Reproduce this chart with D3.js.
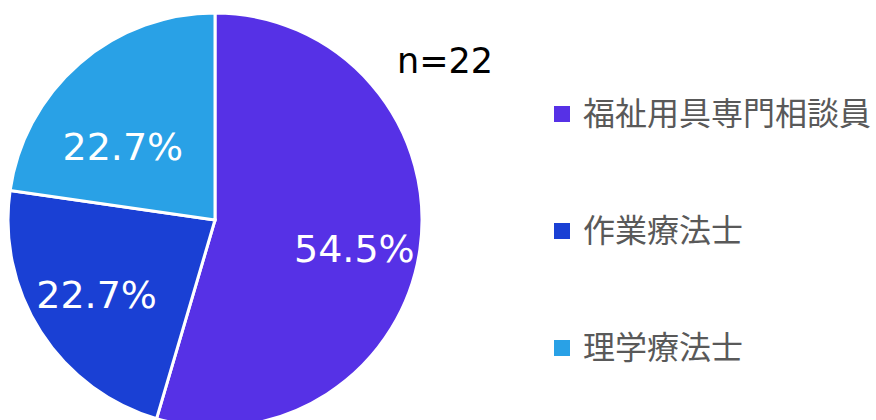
<!DOCTYPE html>
<html>
<head>
<meta charset="utf-8">
<script src="https://cdn.jsdelivr.net/npm/d3@7"></script>
<style>
  body { margin: 0; background: #fff; }
</style>
</head>
<body>
<div id="chart-area"></div>
<script>
// pie of job types, n=22
var categories = ["福祉用具専門相談員", "作業療法士", "理学療法士"]
var shares = [54.5, 22.7, 22.7]
var colors = ["#5631E6", "#1A40D4", "#29A1E6"]
var total = "n=22"

var cw = 876
var ch = 420
var cx = 215
var cy = 220
var R = 207

var svg = d3.select("#chart-area").append("svg")
    .attr("width", cw)
    .attr("height", ch)

var g = svg.append("g").attr("transform", "translate(" + cx + ", " + cy + ")")

var pie = d3.pie().sort(null).value(d => d)
var arcs = pie(shares)

var arc = d3.arc().innerRadius(0).outerRadius(R)

g.selectAll("path")
    .data(arcs)
    .enter()
    .append("path")
    .attr("d", arc)
    .attr("fill", (d, i) => colors[i])
    .attr("stroke", "#fff")
    .attr("stroke-width", 3)

// labels sit a bit wider than tall inside the slices
g.selectAll(".pct")
    .data(arcs)
    .enter()
    .append("text")
    .attr("class", "pct")
    .attr("x", d => {
        var a = (d.startAngle + d.endAngle) / 2
        return Math.sin(a) * R * 0.68
    })
    .attr("y", d => {
        var a = (d.startAngle + d.endAngle) / 2
        return -Math.cos(a) * R * 0.55 + 26
    })
    .attr("text-anchor", "middle")
    .attr("font-family", "DejaVu Sans")
    .attr("font-size", "38px")
    .attr("fill", "#fff")
    .text(d => d.data.toFixed(1) + "%")

svg.append("text")
    .attr("x", 397)
    .attr("y", 73)
    .attr("font-family", "DejaVu Sans")
    .attr("font-size", "35px")
    .attr("fill", "#000")
    .text(total)

var legend = svg.append("g")
    .attr("transform", "translate(554, 106)")

var items = legend.selectAll(".legend-item")
    .data(categories)
    .enter()
    .append("g")
    .attr("class", "legend-item")
    .attr("transform", (d, i) => "translate(0, " + (i * 117) + ")")

items.append("rect")
    .attr("x", 0)
    .attr("y", 0)
    .attr("width", 16)
    .attr("height", 16)
    .attr("fill", (d, i) => colors[i])

items.append("text")
    .attr("x", 29)
    .attr("y", 19)
    .attr("font-family", "Noto Sans CJK JP")
    .attr("font-size", "32px")
    .attr("fill", "#595959")
    .text(d => d)
</script>
</body>
</html>
